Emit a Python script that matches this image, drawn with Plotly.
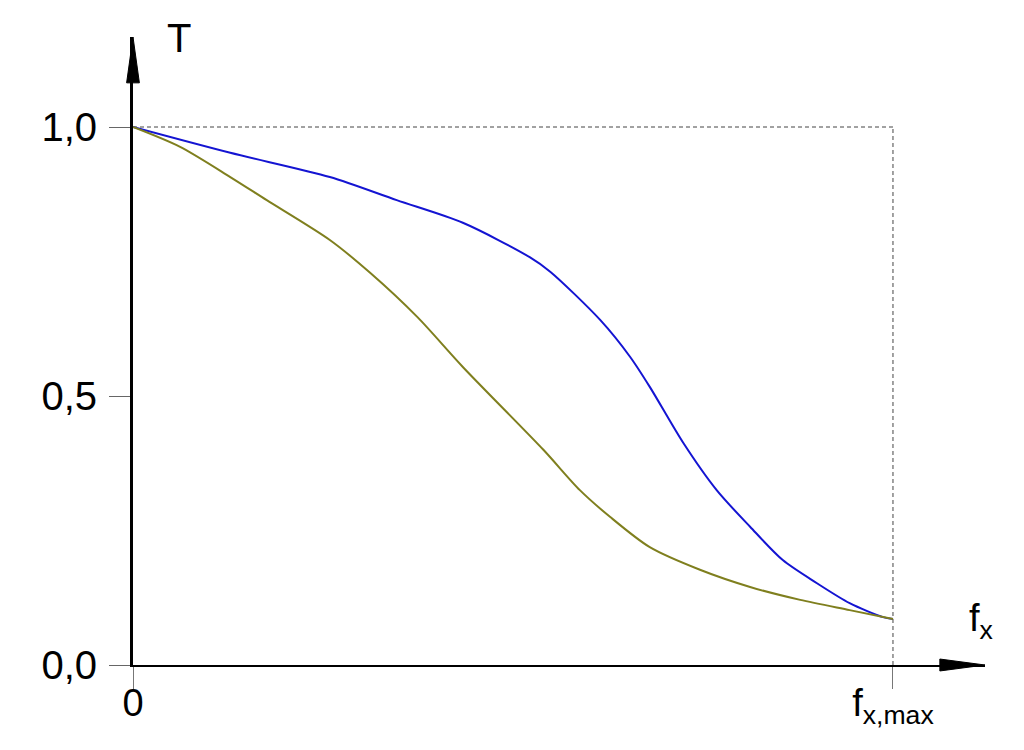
import plotly.graph_objects as go

# ---- data ----
fx_blue = [0.0, 0.128, 0.259, 0.347, 0.434, 0.522, 0.549, 0.615, 0.654, 0.680,
           0.724, 0.768, 0.812, 0.855, 0.900, 0.943, 0.987, 1.0]
T_blue = [1.0, 0.952, 0.907, 0.864, 0.822, 0.758, 0.731, 0.641, 0.573, 0.517,
          0.413, 0.325, 0.257, 0.195, 0.152, 0.115, 0.089, 0.0855]

fx_olive = [0.0, 0.062, 0.128, 0.176, 0.259, 0.312, 0.374, 0.434, 0.540, 0.588,
            0.628, 0.680, 0.746, 0.812, 0.878, 0.943, 1.0]
T_olive = [1.0, 0.963, 0.907, 0.864, 0.790, 0.729, 0.647, 0.554, 0.400, 0.325,
           0.275, 0.219, 0.177, 0.145, 0.121, 0.102, 0.0855]

y_ticks = [0.0, 0.5, 1.0]
y_ticktext = ["0,0", "0,5", "1,0"]
x_ticks = [0.0, 1.0]
x_ticktext = ["0", "f<sub>x,max</sub>"]

X_MAX = 1.1211   # arrow tip on x axis
Y_MAX = 1.1673   # arrow tip on y axis

FONT = "Liberation Sans, Arial, sans-serif"

fig = go.Figure()
fig.add_trace(go.Scatter(x=fx_blue, y=T_blue, mode="lines",
                         line=dict(color="#1414d2", width=2, shape="spline", smoothing=0.8),
                         showlegend=False, hoverinfo="skip"))
fig.add_trace(go.Scatter(x=fx_olive, y=T_olive, mode="lines",
                         line=dict(color="#7f7f1e", width=2, shape="spline", smoothing=0.8),
                         showlegend=False, hoverinfo="skip"))

shapes = [
    # dashed guide lines
    dict(type="line", xref="x", yref="y", x0=0, x1=1, y0=1, y1=1,
         line=dict(color="#444444", width=1, dash="4px,3px"), layer="below"),
    dict(type="line", xref="x", yref="y", x0=1, x1=1, y0=0, y1=1,
         line=dict(color="#444444", width=1, dash="4px,3px"), layer="below"),
    # arrowheads (paper coords so they are not clipped)
    dict(type="path", xref="paper", yref="paper",
         path="M 0,1 L -0.0075,0.927 L 0.0075,0.927 Z",
         fillcolor="black", line=dict(color="black", width=1), layer="above"),
    dict(type="path", xref="paper", yref="paper",
         path="M 1,0 L 0.947,-0.0095 L 0.947,0.0095 Z",
         fillcolor="black", line=dict(color="black", width=1), layer="above"),
]

annotations = [
    dict(text="T", x=0.054, y=0.998, xref="paper", yref="paper", showarrow=False,
         font=dict(family=FONT, size=40, color="black"), xanchor="center", yanchor="middle"),
    dict(text="f<sub>x</sub>", x=1.117, y=0.082, xref="x", yref="y", showarrow=False,
         font=dict(family=FONT, size=38, color="black"), xanchor="center", yanchor="middle"),
]

fig.update_layout(
    width=1024, height=750,
    margin=dict(l=125, r=47, t=29, b=93, autoexpand=False),
    paper_bgcolor="white", plot_bgcolor="white",
    shapes=shapes, annotations=annotations,
    xaxis=dict(range=[0, X_MAX], showgrid=False, zeroline=False, automargin=False,
               showline=True, linecolor="black", linewidth=2,
               tickmode="array", tickvals=x_ticks, ticktext=x_ticktext,
               ticks="outside", ticklen=22, tickcolor="#777777", tickwidth=1,
               ticklabelstandoff=-19,
               tickfont=dict(family=FONT, size=38, color="black")),
    yaxis=dict(range=[0, Y_MAX], showgrid=False, zeroline=False, automargin=False,
               showline=True, linecolor="black", linewidth=3,
               tickmode="array", tickvals=y_ticks, ticktext=y_ticktext,
               ticks="outside", ticklen=21, tickcolor="#666666", tickwidth=1,
               ticklabelstandoff=4,
               tickfont=dict(family=FONT, size=40, color="black")),
)

fig.write_html("out.html")
